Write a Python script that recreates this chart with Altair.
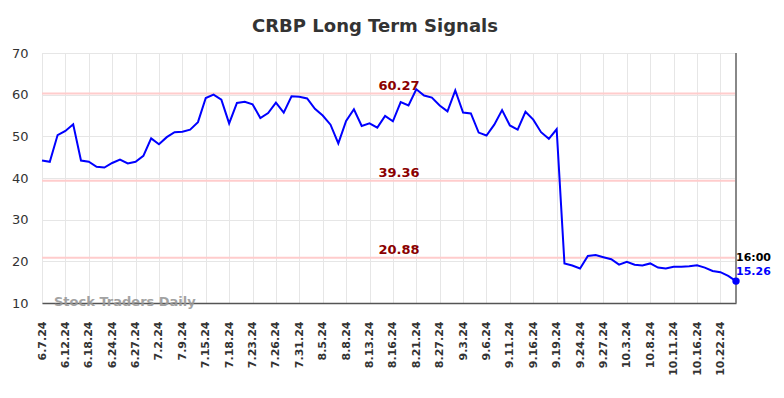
import altair as alt
import pandas as pd

dates = [
    "6.7.24", "6.10.24", "6.11.24", "6.12.24", "6.14.24", "6.17.24",
    "6.18.24", "6.20.24", "6.21.24", "6.24.24", "6.25.24", "6.26.24",
    "6.27.24", "6.28.24", "7.1.24", "7.2.24", "7.3.24", "7.5.24",
    "7.9.24", "7.10.24", "7.12.24", "7.15.24", "7.16.24", "7.17.24",
    "7.18.24", "7.19.24", "7.22.24", "7.23.24", "7.24.24", "7.25.24",
    "7.26.24", "7.29.24", "7.30.24", "7.31.24", "8.1.24", "8.2.24",
    "8.5.24", "8.6.24", "8.7.24", "8.8.24", "8.9.24", "8.12.24",
    "8.13.24", "8.14.24", "8.15.24", "8.16.24", "8.19.24", "8.20.24",
    "8.21.24", "8.22.24", "8.23.24", "8.27.24", "8.28.24", "8.30.24",
    "9.3.24", "9.4.24", "9.5.24", "9.6.24", "9.9.24", "9.10.24",
    "9.11.24", "9.12.24", "9.13.24", "9.16.24", "9.17.24", "9.18.24",
    "9.19.24", "9.20.24", "9.23.24", "9.24.24", "9.25.24", "9.26.24",
    "9.27.24", "9.30.24", "10.1.24", "10.3.24", "10.4.24", "10.7.24",
    "10.8.24", "10.9.24", "10.10.24", "10.11.24", "10.14.24", "10.15.24",
    "10.16.24", "10.17.24", "10.21.24", "10.22.24", "10.23.24", "10.24.24",
]

prices = [
    44.2, 43.9, 50.3, 51.3, 52.9, 44.2, 43.9, 42.7, 42.5, 43.6,
    44.4, 43.5, 43.9, 45.3, 49.5, 48.1, 49.8, 51.0, 51.1, 51.6,
    53.4, 59.2, 60.0, 58.8, 53.1, 58.0, 58.3, 57.7, 54.4, 55.6,
    58.1, 55.7, 59.6, 59.5, 59.1, 56.6, 55.0, 52.8, 48.3, 53.7,
    56.5, 52.5, 53.1, 52.1, 54.9, 53.6, 58.2, 57.4, 61.3, 59.8,
    59.3, 57.4, 56.0, 61.0, 55.7, 55.5, 50.9, 50.2, 52.8, 56.3,
    52.6, 51.6, 55.9, 54.0, 51.0, 49.4, 51.7, 19.5, 19.0, 18.3,
    21.3, 21.5, 21.0, 20.5, 19.2, 19.9, 19.2, 19.0, 19.5, 18.5,
    18.3, 18.7, 18.7, 18.8, 19.05, 18.5, 17.7, 17.4, 16.5, 15.26,
]

tick_labels = dates[0:88:3]

signal_levels = [60.27, 39.36, 20.88]
signal_texts = ["60.27", "39.36", "20.88"]

last_time = "16:00"
last_price_text = "15.26"

title_text = "CRBP Long Term Signals"
watermark = "Stock Traders Daily"

FONT = "DejaVu Sans"

df = pd.DataFrame({"date": dates, "price": prices})
sig = pd.DataFrame({"level": signal_levels, "label": signal_texts})
last = pd.DataFrame({"date": [dates[-1]], "price": [prices[-1]],
                     "time": [last_time], "ptxt": [last_price_text]})

xenc = alt.X(
    "date:O",
    sort=None,
    scale=alt.Scale(type="point", padding=0, domain=dates),
    axis=alt.Axis(
        values=tick_labels, labelAngle=-90, labelAlign="right", labelBaseline="middle",
        ticks=False, labelPadding=18, grid=True, gridColor="#e6e6e6",
        domainColor="#555555", domainWidth=1.5, labelFont=FONT, labelFontSize=11,
        labelColor="#333333", title=None, labelFontWeight="bold",
    ),
)
yscale = alt.Scale(domain=[10, 70], nice=False, zero=False)
yaxis = alt.Axis(
    values=[10, 20, 30, 40, 50, 60, 70], grid=True, gridColor="#e6e6e6", domain=False,
    ticks=False, labelPadding=14, labelFont=FONT, labelFontSize=13, labelColor="#333333",
    title=None,
)

base = alt.Chart(df)

grid_layer = base.mark_line(opacity=0).encode(
    x=xenc, y=alt.Y("price:Q", scale=yscale, axis=yaxis)
)

rules = alt.Chart(sig).mark_rule(color="#ffcccc", strokeWidth=2).encode(
    y=alt.Y("level:Q", scale=yscale)
)
rule_text = alt.Chart(sig).mark_text(
    color="#8b0000", fontWeight="bold", fontSize=13, font=FONT, dy=-8, align="center"
).encode(y=alt.Y("level:Q", scale=yscale), x=alt.value(357), text="label:N")

line = base.mark_line(color="#0000ff", strokeWidth=2).encode(
    x=alt.X("date:O", sort=None), y=alt.Y("price:Q", scale=yscale)
)

dot = alt.Chart(last).mark_circle(color="#0000ff", size=55, opacity=1).encode(
    x=alt.X("date:O", sort=None), y=alt.Y("price:Q", scale=yscale)
)
time_txt = alt.Chart(last).mark_text(
    align="left", dy=-23, fontWeight="bold", fontSize=11, font=FONT, color="#000000"
).encode(x=alt.X("date:O", sort=None), y=alt.Y("price:Q", scale=yscale), text="time:N")
price_txt = alt.Chart(last).mark_text(
    align="left", dy=-9, fontWeight="bold", fontSize=11, font=FONT, color="#0000ff"
).encode(x=alt.X("date:O", sort=None), y=alt.Y("price:Q", scale=yscale), text="ptxt:N")

right_border = alt.Chart(pd.DataFrame({"k": [0]})).mark_rule(
    color="#888888", strokeWidth=2
).encode(x=alt.value(694), y=alt.value(0), y2=alt.value(250))

title = alt.Chart(pd.DataFrame({"t": [title_text]})).mark_text(
    fontSize=18, fontWeight="bold", font=FONT, color="#333333", align="center", baseline="middle"
).encode(x=alt.value(333), y=alt.value(-26), text="t:N")

wm = alt.Chart(pd.DataFrame({"t": [watermark]})).mark_text(
    fontSize=13, fontWeight="bold", font=FONT, color="#999999", align="left", baseline="middle",
    opacity=0.9,
).encode(x=alt.value(12), y=alt.value(249), text="t:N")

chart = alt.layer(
    grid_layer, rules, rule_text, line, right_border, dot, time_txt, price_txt, wm, title
).properties(
    width=694, height=250,
    autosize=alt.AutoSizeParams(type="none"),
    padding={"left": 34, "top": 45, "right": 40, "bottom": 82},
).configure_view(stroke=None).configure(background="white")

chart.save("out.html", embed_options={"renderer": "svg", "actions": False})
